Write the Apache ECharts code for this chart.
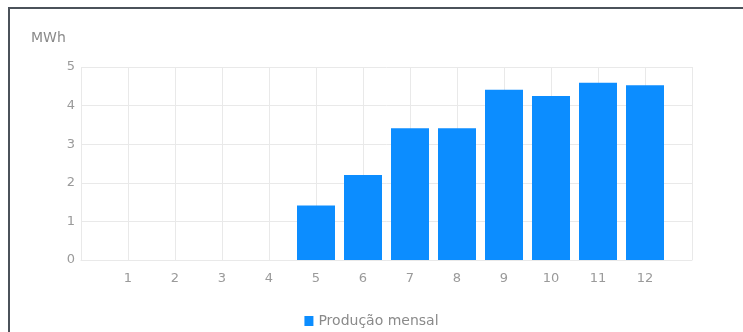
<!DOCTYPE html>
<html>
<head>
<meta charset="utf-8">
<script src="https://cdn.jsdelivr.net/npm/echarts@6/dist/echarts.min.js"></script>
<style>
  html, body { margin: 0; padding: 0; background: #ffffff; }
  #chart { width: 743px; height: 332px; }
</style>
</head>
<body>
<div id="chart"></div>
<script>
// Monthly production (MWh) by month number
const months = [1, 2, 3, 4, 5, 6, 7, 8, 9, 10, 11, 12];
const production = [0, 0, 0, 0, 1.41, 2.2, 3.41, 3.41, 4.41, 4.25, 4.59, 4.53];
const seriesName = 'Produção mensal';
const unitLabel = 'MWh';

const chart = echarts.init(document.getElementById('chart'), null, { renderer: 'canvas' });

const labelFont = 'DejaVu Sans';
const labelColor = '#9a9a9a';
const gridColor = '#e9e9e9';

chart.setOption({
  backgroundColor: '#ffffff',
  animation: false,
  graphic: [
    // Panel frame: top and left edges
    { type: 'rect', left: 8, top: 7, shape: { width: 735, height: 2 }, style: { fill: '#4b525a' } },
    { type: 'rect', left: 8, top: 7, shape: { width: 2, height: 325 }, style: { fill: '#4b525a' } }
  ],
  title: {
    text: unitLabel,
    left: 26,
    top: 26,
    textStyle: { fontFamily: labelFont, fontSize: 14, fontWeight: 'normal', color: '#8a8a8a' }
  },
  legend: {
    data: [seriesName],
    left: 'center',
    top: 309,
    itemWidth: 9,
    itemHeight: 10,
    icon: 'rect',
    textStyle: { fontFamily: labelFont, fontSize: 14, color: '#8a8a8a' }
  },
  grid: { left: 81, right: 51, top: 67, bottom: 72, containLabel: false },
  xAxis: {
    type: 'value',
    min: 0,
    max: 13,
    interval: 1,
    axisLine: { show: true, lineStyle: { color: gridColor } },
    axisTick: { show: false },
    splitLine: { show: true, lineStyle: { color: gridColor } },
    axisLabel: {
      margin: 12,
      fontFamily: labelFont,
      fontSize: 13,
      color: labelColor,
      formatter: function (v) { return months.indexOf(v) >= 0 ? String(v) : ''; }
    }
  },
  yAxis: {
    type: 'value',
    min: 0,
    max: 5,
    interval: 1,
    axisLine: { show: false },
    axisTick: { show: false },
    splitLine: { show: true, lineStyle: { color: gridColor } },
    axisLabel: { margin: 6, fontFamily: labelFont, fontSize: 13, color: labelColor }
  },
  series: [{
    name: seriesName,
    type: 'bar',
    barWidth: 38,
    itemStyle: { color: '#0c8dff' },
    data: months.map(function (m, i) { return [m, production[i]]; })
  }]
});
</script>
</body>
</html>
